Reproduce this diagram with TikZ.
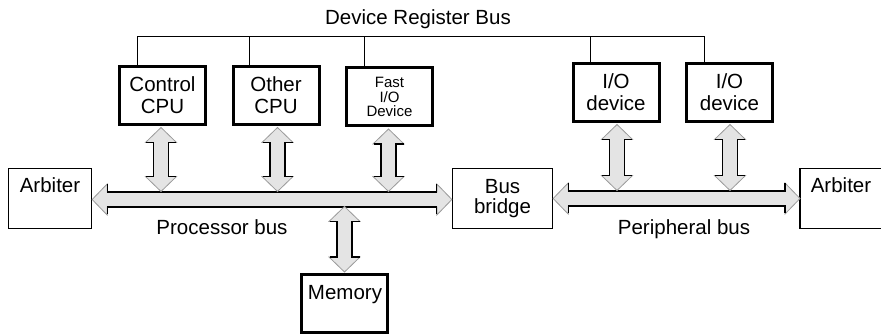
\documentclass[tikz,border=0pt]{standalone}
\usepackage{fontspec}
\setmainfont{Liberation Sans}
\usetikzlibrary{calc}
\definecolor{afill}{HTML}{E4E4E4}
\definecolor{ahead}{HTML}{9A9A9A}
\newcommand\VArr[2]{%
 \path let \p1=(#1),\p2=(#2) in [fill=afill,draw=ahead,line width=0.8pt,line join=miter]
   (\x1,\y1) -- (\x1+15.5pt,\y1-15pt) -- (\x1+7.5pt,\y1-15pt) -- (\x1+7.5pt,\y2+15pt) -- (\x1+15.5pt,\y2+15pt) -- (\x1,\y2) -- (\x1-15.5pt,\y2+15pt) -- (\x1-7.5pt,\y2+15pt) -- (\x1-7.5pt,\y1-15pt) -- (\x1-15.5pt,\y1-15pt) -- cycle;
 \path let \p1=(#1),\p2=(#2) in [draw=black,line width=1.1pt]
   (\x1+15pt,\y1-15pt) -- (\x1+7.5pt,\y1-15pt) -- (\x1+7.5pt,\y2+15pt) -- (\x1+15pt,\y2+15pt)
   (\x1-15pt,\y1-15pt) -- (\x1-7.5pt,\y1-15pt) -- (\x1-7.5pt,\y2+15pt) -- (\x1-15pt,\y2+15pt);
}
\newcommand\HArr[2]{%
 \path let \p1=(#1),\p2=(#2) in [fill=afill,draw=ahead,line width=0.8pt,line join=miter]
   (\x1,\y1) -- (\x1+15pt,\y1+15.5pt) -- (\x1+15pt,\y1+7.5pt) -- (\x2-15pt,\y1+7.5pt) -- (\x2-15pt,\y1+15.5pt) -- (\x2,\y1) -- (\x2-15pt,\y1-15.5pt) -- (\x2-15pt,\y1-7.5pt) -- (\x1+15pt,\y1-7.5pt) -- (\x1+15pt,\y1-15.5pt) -- cycle;
 \path let \p1=(#1),\p2=(#2) in [draw=black,line width=1.1pt]
   (\x1+15pt,\y1+15pt) -- (\x1+15pt,\y1+7.5pt) -- (\x2-15pt,\y1+7.5pt) -- (\x2-15pt,\y1+15pt)
   (\x1+15pt,\y1-15pt) -- (\x1+15pt,\y1-7.5pt) -- (\x2-15pt,\y1-7.5pt) -- (\x2-15pt,\y1-15pt);
}
\begin{document}
\begin{tikzpicture}[x=1pt,y=-1pt,
  big/.style={font=\fontsize{20.5}{22}\selectfont},
  thickbox/.style={draw,line width=3pt,minimum width=86pt,minimum height=58pt,inner sep=0pt,align=center,big},
  thinbox/.style={draw,line width=1.3pt,minimum height=60pt,inner sep=0pt},
  lbl/.style={big,inner sep=0pt,anchor=base},
  regline/.style={line width=1pt}]
\useasboundingbox (0,0) rectangle (881,336);
% top boxes
\node[thickbox] (ctrl) at (162.5,95.5) {Control\\CPU};
\node[thickbox] (other) at (276,95.5) {Other\\CPU};
\node[thickbox,font=\fontsize{15}{14.5}\selectfont] (fast) at (389.5,97) {Fast\\I/O\\Device};
\node[thickbox] (io1) at (616,92.5) {I/O\\device};
\node[thickbox] (io2) at (729.5,92.5) {I/O\\device};
\node[thickbox] (mem) at (344.5,303.5) {};
\node[lbl] (memt) at (345,300) {Memory};
% lower boxes
\node[thinbox,minimum width=83pt] (arbL) at (50,198.5) {};
\node[lbl] (arbLt) at (50,193) {Arbiter};
\node[thinbox,minimum width=100pt,align=center,font=\fontsize{20.5}{20}\selectfont] (bridge) at (502.5,198.5) {Bus\\bridge};
\node[minimum width=90pt,minimum height=60pt,inner sep=0pt,anchor=west] (arbR) at (800,198.5) {};
\draw[line width=1.3pt] (arbR.north east) -- (arbR.north west) -- (arbR.south west) -- (arbR.south east);
\node[lbl] (arbRt) at (841,193) {Arbiter};
% device register bus
\node[lbl] (drbt) at (418,25) {Device Register Bus};
\coordinate (drb) at (0,37);
\coordinate (d1) at ($(ctrl.north west)+(19,0)$);
\coordinate (d2) at ($(other.north west)+(18,0)$);
\coordinate (d3) at ($(fast.north west)+(19,0)$);
\coordinate (d4) at ($(io1.north west)+(19,0)$);
\coordinate (d5) at ($(io2.north west)+(19,0)$);
\draw[regline] (d1) -- (d1 |- drb) -- (d5 |- drb) -- (d5);
\draw[regline] (d2) -- (d2 |- drb);
\draw[regline] (d3) -- (d3 |- drb);
\draw[regline] (d4) -- (d4 |- drb);
% buses
\coordinate (pbus) at (0,199.5);
\coordinate (pbtop) at (0,191.5);
\coordinate (pbbot) at (0,206.5);
\coordinate (sbus) at (0,198.5);
\coordinate (sbtop) at (0,190.5);
\HArr{arbL.east |- pbus}{bridge.west |- pbus}
\HArr{bridge.east |- sbus}{arbR.west |- sbus}
\node[lbl] (pbl) at (222,235) {Processor bus};
\node[lbl] (sbl) at (684,235) {Peripheral bus};
% vertical arrows
\VArr{$(ctrl.south)+(-1.5,1.5)$}{ctrl.south |- pbtop}
\VArr{$(other.south)+(1.5,1.5)$}{other.south |- pbtop}
\VArr{$(fast.south)+(-1,1.5)$}{fast.south |- pbtop}
\VArr{$(io1.south)+(1,1.5)$}{io1.south |- sbtop}
\VArr{$(io2.south)+(0.5,1.5)$}{io2.south |- sbtop}
\VArr{mem.north |- pbbot}{$(mem.north)+(0,-1)$}
\end{tikzpicture}
\end{document}
